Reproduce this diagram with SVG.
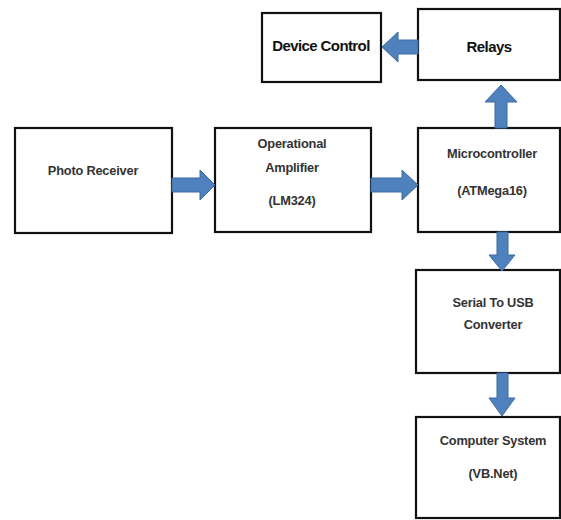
<svg xmlns="http://www.w3.org/2000/svg" width="561" height="520" viewBox="0 0 561 520">
<style>
.box{fill:#fff;stroke:#111;stroke-width:2.2}
.t{font-family:"Liberation Sans",Arial,sans-serif;font-weight:bold;font-size:12.8px;fill:#333;text-anchor:middle;letter-spacing:-0.2px}
.tb{font-family:"Liberation Sans",Arial,sans-serif;font-weight:bold;font-size:15px;fill:#111;text-anchor:middle;letter-spacing:-0.6px}
.arr{fill:#4f81bd;stroke:#3b6aa3;stroke-width:1}
</style>
<rect width="561" height="520" fill="#fff"/>
<g id="device-control"><rect class="box" x="262" y="13" width="119" height="69"/><text class="tb" x="321" y="51">Device Control</text></g>
<g id="relays"><rect class="box" x="418" y="9" width="142" height="71"/><text class="tb" x="489" y="52">Relays</text></g>
<g id="photo-receiver"><rect class="box" x="15" y="128" width="157" height="105"/><text class="t" x="93" y="175">Photo Receiver</text></g>
<g id="op-amp"><rect class="box" x="215" y="128" width="156" height="104"/><text class="t" x="292" y="148">Operational</text><text class="t" x="292" y="172">Amplifier</text><text class="t" x="292" y="205">(LM324)</text></g>
<g id="microcontroller"><rect class="box" x="418" y="128" width="142" height="104"/><text class="t" x="492" y="158">Microcontroller</text><text class="t" x="492" y="195">(ATMega16)</text></g>
<g id="serial-usb"><rect class="box" x="416" y="270" width="144" height="103"/><text class="t" x="493" y="307">Serial To USB</text><text class="t" x="493" y="329">Converter</text></g>
<g id="computer"><rect class="box" x="416" y="417" width="144" height="101"/><text class="t" x="493" y="445">Computer System</text><text class="t" x="493" y="478">(VB.Net)</text></g>
<g id="connectors">
<polygon class="arr" points="418,40 398,40 398,32 382,47 398,62 398,54 418,54"/>
<polygon class="arr" points="495,128 495,102 485,102 501,85 517,102 507,102 507,128"/>
<polygon class="arr" points="172,178 200,178 200,170 215,185 200,200 200,192 172,192"/>
<polygon class="arr" points="371,178 402,178 402,170 418,185 402,200 402,192 371,192"/>
<polygon class="arr" points="497,232 508,232 508,255 515,255 502,271 489,255 497,255"/>
<polygon class="arr" points="497,373 508,373 508,398 515,398 502,416 489,398 497,398"/>
</g>
</svg>
